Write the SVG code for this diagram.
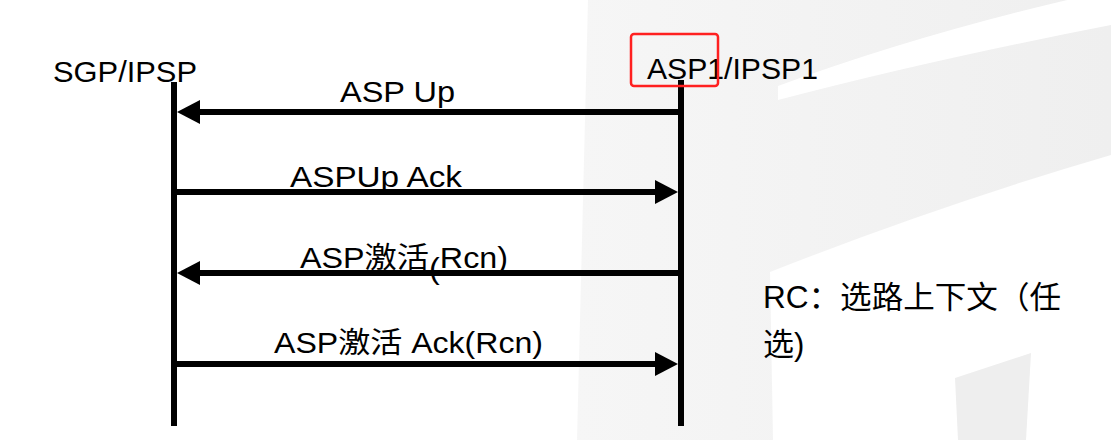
<svg xmlns="http://www.w3.org/2000/svg" width="1111" height="440" viewBox="0 0 1111 440">
<style>
  .t { font-family: "Liberation Sans", "Noto Sans CJK SC", sans-serif; font-size: 29px; fill: #000; }
  .note { font-family: "Liberation Sans", "Noto Sans CJK SC", sans-serif; font-size: 31px; fill: #000; }
  .life { stroke: #000; stroke-width: 6; }
  .msg { stroke: #000; stroke-width: 6; fill: none; marker-end: url(#ah); }
</style>
<defs>
  <marker id="ah" markerUnits="userSpaceOnUse" markerWidth="24" markerHeight="24" refX="5" refY="12" orient="auto">
    <path d="M0,0 L23,12 L0,24 Z" fill="#000"/>
  </marker>
  <linearGradient id="wg" x1="0" y1="0" x2="1" y2="0">
    <stop offset="0" stop-color="#f6f6f6"/>
    <stop offset="1" stop-color="#efefef"/>
  </linearGradient>
</defs>
<rect width="1111" height="440" fill="#fff"/>
<g id="watermark">
  <path fill="url(#wg)" d="M588,0 L1111,0 L1111,155 Q940,205 770,272 L773,440 L577,440 Z"/>
  <path fill="#fff" d="M778,86 Q930,30 1111,-10 L1111,25 Q930,60 778,100 Z"/>
  <path fill="#eeeeee" d="M955,378 L1031,353 L1026,440 L958,440 Z"/>
</g>
<g id="lifeline-sgp">
  <line class="life" x1="174" y1="82" x2="174" y2="426"/>
  <text class="t" x="53" y="82" textLength="144" lengthAdjust="spacingAndGlyphs">SGP/IPSP</text>
</g>
<g id="lifeline-asp">
  <line class="life" x1="681" y1="80" x2="681" y2="426"/>
  <text class="t" x="647" y="79" textLength="171" lengthAdjust="spacingAndGlyphs">ASP1/IPSP1</text>
  <rect x="631" y="34" width="87" height="52" rx="3" fill="none" stroke="#ff2020" stroke-width="2.5"/>
</g>
<g id="connectors">
  <line class="msg" x1="681" y1="112" x2="195" y2="112"/>
  <line class="msg" x1="174" y1="192" x2="660" y2="192"/>
  <line class="msg" x1="681" y1="273" x2="195" y2="273"/>
  <line class="msg" x1="174" y1="364" x2="660" y2="364"/>
  <text class="t" x="340" y="102" textLength="115" lengthAdjust="spacingAndGlyphs">ASP Up</text>
  <text class="t" x="290" y="187" textLength="172" lengthAdjust="spacingAndGlyphs">ASPUp Ack</text>
  <text class="t" x="300" y="268" textLength="208" lengthAdjust="spacingAndGlyphs">ASP激活<tspan dy="11">(</tspan><tspan dy="-11">Rcn)</tspan></text>
  <text class="t" x="274" y="353" textLength="269" lengthAdjust="spacingAndGlyphs">ASP激活 Ack(Rcn)</text>
</g>
<g id="note">
  <text class="note" x="763" y="308" textLength="298" lengthAdjust="spacingAndGlyphs">RC：选路上下文（任</text>
  <text class="note" x="763" y="355">选)</text>
</g>
</svg>
